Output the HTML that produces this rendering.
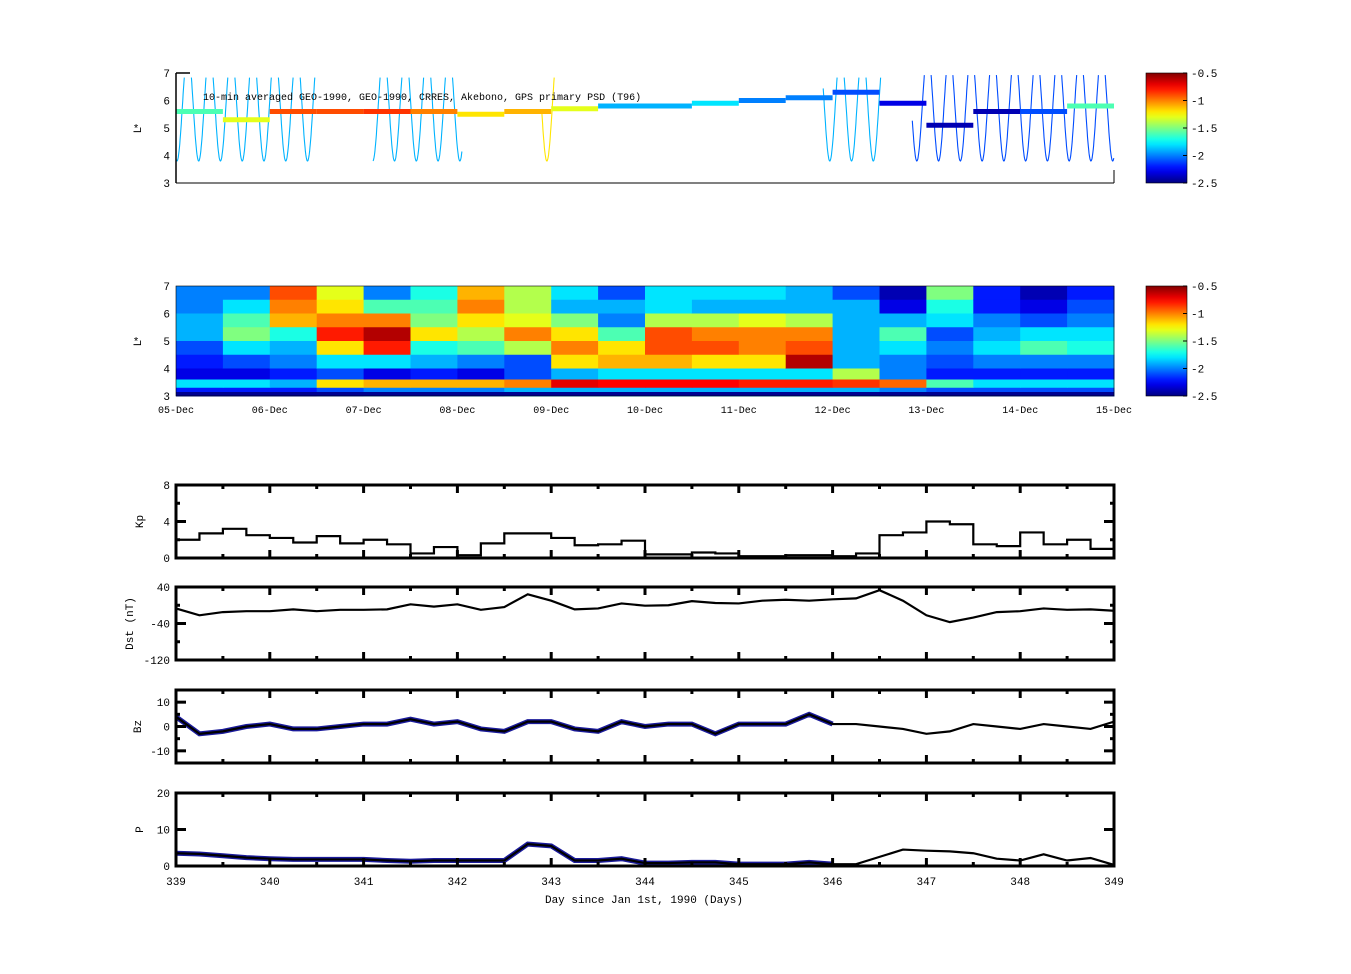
<!DOCTYPE html>
<html><head><meta charset="utf-8">
<style>
html,body{margin:0;padding:0;background:#fff;}
svg{display:block;font-family:"Liberation Mono",monospace;}
</style></head>
<body>
<svg id="fig" width="1351" height="974" viewBox="0 0 1351 974" xmlns="http://www.w3.org/2000/svg">
<rect width="1351" height="974" fill="#fff"/>
<g id="topPanel"></g>
<g id="heat"></g>
<g id="cb"></g>
<g id="ts"></g>
</svg>
<script>
// ---------- data ----------
const heatDays = [339,339.5,340,340.5,341,341.5,342,342.5,343,343.5,344,344.5,345,345.5,346,346.5,347,347.5,348,348.5];
const heatLBins = [7,6.5,6,5.5,5,4.5,4,3.5];
const heatValues = [
[-2.0,-2.0,-1.9,-1.9,-2.1,-2.2,-2.3,-2.2],
[-2.0,-1.8,-1.6,-1.5,-1.8,-2.1,-2.3,-2.2],
[-0.9,-1.0,-1.1,-1.7,-1.9,-2.0,-2.2,-2.2],
[-1.3,-1.2,-1.0,-0.8,-1.2,-1.8,-2.1,-2.1],
[-2.0,-1.6,-1.0,-0.6,-0.8,-1.8,-2.3,-2.0],
[-1.7,-1.6,-1.5,-1.2,-1.7,-1.9,-2.2,-2.0],
[-1.1,-1.0,-1.2,-1.4,-1.6,-2.0,-2.3,-2.0],
[-1.4,-1.4,-1.3,-1.0,-1.4,-2.1,-2.1,-1.9],
[-1.8,-1.9,-1.5,-1.2,-1.0,-1.2,-1.9,-1.9],
[-2.1,-1.9,-2.0,-1.6,-1.2,-1.1,-1.8,-1.9],
[-1.8,-1.8,-1.4,-0.9,-0.9,-1.1,-1.8,-1.9],
[-1.8,-1.9,-1.4,-1.0,-0.9,-1.2,-1.8,-1.9],
[-1.8,-1.9,-1.3,-1.0,-1.0,-1.2,-1.8,-1.9],
[-1.9,-1.9,-1.4,-1.0,-0.9,-0.6,-1.8,-1.9],
[-2.1,-1.9,-1.9,-1.9,-1.9,-1.9,-1.4,-1.9],
[-2.4,-2.3,-1.9,-1.6,-1.8,-2.0,-2.0,-2.0],
[-1.5,-1.7,-1.8,-2.1,-2.0,-2.1,-2.2,-2.1],
[-2.2,-2.2,-2.0,-1.9,-1.8,-2.0,-2.2,-2.1],
[-2.4,-2.3,-2.1,-1.8,-1.6,-2.0,-2.2,-2.1],
[-2.2,-2.1,-2.0,-1.8,-1.7,-2.0,-2.2,-2.1]];
const stripValues = [-1.8,-1.8,-1.9,-1.2,-1.1,-1.1,-1.1,-1.0,-0.7,-0.75,-0.75,-0.75,-0.8,-0.8,-0.85,-0.95,-1.6,-1.8,-1.8,-1.8];
const geoL = [5.6,5.3,5.6,5.6,5.6,5.6,5.5,5.6,5.7,5.8,5.8,5.9,6.0,6.1,6.3,5.9,5.1,5.6,5.6,5.8];
const geoPsd = [-1.6,-1.3,-0.9,-0.9,-0.85,-1.0,-1.2,-1.1,-1.3,-1.9,-1.9,-1.8,-2.0,-2.0,-2.1,-2.3,-2.4,-2.4,-2.1,-1.6];
const orbitRanges = [[339,340.55],[341.1,342.05],[342.9,343.1],[345.9,346.55],[346.85,349]];
const orbitPsd = [-1.9,-1.9,-1.2,-1.9,-2.1];
const dateLabels = ["05-Dec","06-Dec","07-Dec","08-Dec","09-Dec","10-Dec","11-Dec","12-Dec","13-Dec","14-Dec","15-Dec"];
const dayTicks = [339,340,341,342,343,344,345,346,347,348,349];
const cbTicks = [-0.5,-1,-1.5,-2,-2.5];
const tsDays = [339,339.25,339.5,339.75,340,340.25,340.5,340.75,341,341.25,341.5,341.75,342,342.25,342.5,342.75,343,343.25,343.5,343.75,344,344.25,344.5,344.75,345,345.25,345.5,345.75,346,346.25,346.5,346.75,347,347.25,347.5,347.75,348,348.25,348.5,348.75,349];
const kpValues = [2.0,2.7,3.2,2.5,2.2,1.7,2.4,1.6,2.0,1.5,0.5,1.2,0.3,1.6,2.7,2.7,2.2,1.4,1.5,1.9,0.4,0.4,0.6,0.5,0.2,0.2,0.3,0.3,0.2,0.5,2.5,2.8,4.0,3.7,1.5,1.3,2.8,1.5,2.0,1.0];
const dstValues = [-7,-22,-15,-13,-13,-9,-13,-10,-10,-9,2,-3,2,-10,-4,24,10,-9,-7,4,-1,0,9,5,4,10,12,10,13,15,33,10,-22,-37,-27,-15,-13,-7,-10,-9,-12];
const bzValues = [4,-3,-2,0,1,-1,-1,0,1,1,3,1,2,-1,-2,2,2,-1,-2,2,0,1,1,-3,1,1,1,5,1,1,0,-1,-3,-2,1,0,-1,1,0,-1,2];
const pValues = [3.5,3.3,2.8,2.3,2.0,1.8,1.8,1.8,1.8,1.5,1.3,1.5,1.5,1.5,1.5,6.0,5.5,1.5,1.5,2.0,0.8,0.8,1.0,1.0,0.5,0.5,0.5,1.0,0.5,0.5,2.5,4.5,4.2,4.0,3.5,2.0,1.5,3.2,1.5,2.2,0.3];
const blueEnd = 346;

// ---------- helpers ----------
const NS="http://www.w3.org/2000/svg";
const X0=176,X1=1114;
const xs=d=>X0+(d-339)/10*(X1-X0);
function mk(tag,attrs,parent){const e=document.createElementNS(NS,tag);for(const k in attrs)e.setAttribute(k,attrs[k]);parent.appendChild(e);return e;}
function jet(v){
  let t=(v+2.5)/2; t=Math.max(0,Math.min(1,t));
  const f=x=>Math.max(0,Math.min(1,x));
  const r=f(1.5-Math.abs(4*t-3)),g=f(1.5-Math.abs(4*t-2)),b=f(1.5-Math.abs(4*t-1));
  return `rgb(${Math.round(r*255)},${Math.round(g*255)},${Math.round(b*255)})`;
}
function txt(parent,x,y,s,anchor,size,rot){
  const t=mk('text',{x:x,y:y,'font-size':size||11,'text-anchor':anchor||'middle',fill:'#000'},parent);
  if(rot) t.setAttribute('transform',`rotate(-90 ${x} ${y})`);
  t.textContent=s;return t;
}

// ---------- top scatter panel ----------
const topG=document.getElementById('topPanel');
const tY=L=>183-(L-3)/4*110;
orbitRanges.forEach((r,ri)=>{
  let pts=[];
  const flush=()=>{ if(pts.length>1){const p=mk('polyline',{points:pts.join(' '),fill:'none',stroke:jet(orbitPsd[ri]),'stroke-width':1.1},topG);
    
    } pts=[]; };
  for(let d=r[0];d<=r[1];d+=0.004){
    const L=5.8-2.0*Math.cos(2*Math.PI*(d-339.01)/0.232);
    if(L>7){flush();continue;}
    pts.push(xs(d).toFixed(1)+','+tY(L).toFixed(1));
  }
  flush();
});
geoL.forEach((L,i)=>{
  const d=339+i*0.5;
  const r=mk('rect',{x:xs(d),y:tY(L)-2.5,width:xs(d+0.5)-xs(d),height:5,fill:jet(geoPsd[i])},topG);
  
  
});
mk('line',{x1:X0,y1:183,x2:X1,y2:183,stroke:'#000'},topG);
mk('line',{x1:X0,y1:73,x2:X0,y2:183,stroke:'#000','stroke-width':1.5},topG);
mk('line',{x1:X0,y1:73,x2:X0+14,y2:73,stroke:'#000','stroke-width':1.5},topG);
mk('line',{x1:X1,y1:170,x2:X1,y2:183,stroke:'#000'},topG);
[3,4,5,6,7].forEach(v=>txt(topG,170,tY(v)+4,String(v),'end',11));
txt(topG,141,130,'L','middle',11,true);
txt(topG,136,132,'*','middle',11);
const ttl=txt(topG,203,100,'10-min averaged GEO-1990, GEO-1990, CRRES, Akebono, GPS  primary PSD (T96)','start',10);



// ---------- heatmap ----------
const heat=document.getElementById('heat');
const hY=L=>396-(L-3)/4*110;
heatValues.forEach((col,i)=>{
  col.forEach((v,j)=>{
    const L=heatLBins[j];
    const r=mk('rect',{x:xs(heatDays[i]),y:hY(L),width:xs(heatDays[i]+0.5)-xs(heatDays[i])+0.5,height:hY(L-0.5)-hY(L)+0.5,fill:jet(v)},heat);
    
    
  });
});
stripValues.forEach((v,i)=>{
  const r=mk('rect',{x:xs(heatDays[i]),y:hY(3.6),width:xs(heatDays[i]+0.5)-xs(heatDays[i])+0.5,height:hY(3.3)-hY(3.6),fill:jet(v)},heat);
  
  
});
mk('rect',{x:X0,y:392,width:X1-X0,height:4,fill:'#00008f'},heat);
mk('rect',{x:X0,y:286,width:X1-X0,height:110,fill:'none',stroke:'#000','stroke-width':0.6},heat);
[3,4,5,6,7].forEach(v=>txt(heat,170,hY(v)+4,String(v),'end',11));
txt(heat,141,343,'L','middle',11,true);
txt(heat,136,345,'*','middle',11);
dateLabels.forEach((s,i)=>{const t=txt(heat,xs(dayTicks[i]),413,s,'middle',10);
  
  });

// ---------- colorbars ----------
const cb=document.getElementById('cb');
const defs=mk('defs',{},cb);
const lg=mk('linearGradient',{id:'jetg',x1:0,y1:1,x2:0,y2:0},defs);
for(let k=0;k<=20;k++){mk('stop',{offset:k/20,'stop-color':jet(-2.5+2*k/20)},lg);}
[73,286].forEach(y0=>{
  const r=mk('rect',{x:1146,y:y0,width:41,height:110,fill:'url(#jetg)',stroke:'#000','stroke-width':0.6},cb);
  
  
  cbTicks.forEach(v=>{const y=y0+(-0.5-v)/2*110;
    mk('line',{x1:1183,y1:y,x2:1187,y2:y,stroke:'#000'},cb);
    txt(cb,1191,y+4,String(v),'start',11);});
});

// ---------- time series ----------
const tsG=document.getElementById('ts');
const panels=[
 {name:'kp',top:485,bot:558,min:0,max:8,ticks:[0,4,8],minor:[2,6],label:'Kp',vals:kpValues,step:true},
 {name:'dst',top:587,bot:660,min:-120,max:40,ticks:[40,-40,-120],minor:[0,-80],label:'Dst (nT)',vals:dstValues},
 {name:'bz',top:690,bot:763,min:-15,max:15,ticks:[10,0,-10],minor:[5,-5],label:'Bz',vals:bzValues,blue:true},
 {name:'p',top:793,bot:866,min:0,max:20,ticks:[20,10,0],minor:[],label:'P',vals:pValues,blue:true}
];
panels.forEach(p=>{
  const g=mk('g',{},tsG);
  
  
  const y=v=>p.bot-(v-p.min)/(p.max-p.min)*(p.bot-p.top);
  const clip=mk('clipPath',{id:'c'+p.name},g);
  mk('rect',{x:X0,y:p.top,width:X1-X0,height:p.bot-p.top},clip);
  const pts=[];
  if(p.step){
    p.vals.forEach((v,i)=>{pts.push(xs(tsDays[i])+','+y(v));pts.push(xs(tsDays[i+1])+','+y(v));});
  } else {
    p.vals.forEach((v,i)=>pts.push(xs(tsDays[i])+','+y(v)));
  }
  if(p.blue){
    const bp=[];p.vals.forEach((v,i)=>{if(tsDays[i]<=blueEnd)bp.push(xs(tsDays[i])+','+y(v));});
    const b=mk('polyline',{points:bp.join(' '),fill:'none',stroke:'#1a1a9a','stroke-width':5,'clip-path':`url(#c${p.name})`},g);
    
    
  }
  const l=mk('polyline',{points:pts.join(' '),fill:'none',stroke:'#000','stroke-width':2.2,'clip-path':`url(#c${p.name})`},g);
  
  
  mk('rect',{x:X0,y:p.top,width:X1-X0,height:p.bot-p.top,fill:'none',stroke:'#000','stroke-width':3},g);
  for(let d=339;d<=349;d+=0.5){
    const len=(d%1===0)?8:4, x=xs(d);
    mk('line',{x1:x,y1:p.top,x2:x,y2:p.top+len,stroke:'#000','stroke-width':3},g);
    mk('line',{x1:x,y1:p.bot,x2:x,y2:p.bot-len,stroke:'#000','stroke-width':3},g);
  }
  p.ticks.concat(p.minor).forEach(v=>{
    const len=p.ticks.includes(v)?10:4;
    mk('line',{x1:X0,y1:y(v),x2:X0+len,y2:y(v),stroke:'#000','stroke-width':3},g);
    mk('line',{x1:X1,y1:y(v),x2:X1-len,y2:y(v),stroke:'#000','stroke-width':3},g);
  });
  p.ticks.forEach(v=>txt(g,170,y(v)+4,String(v),'end',11));
  const lx=p.name==='dst'?133:(p.name==='bz'?141:143);
  txt(g,lx,(p.top+p.bot)/2,p.label,'middle',11,true);
});
dayTicks.forEach(d=>{const t=txt(tsG,xs(d),885,String(d),'middle',11);
  
  });
const xl=txt(tsG,644,903,'Day since Jan 1st, 1990 (Days)','middle',11);


</script>
</body></html>
